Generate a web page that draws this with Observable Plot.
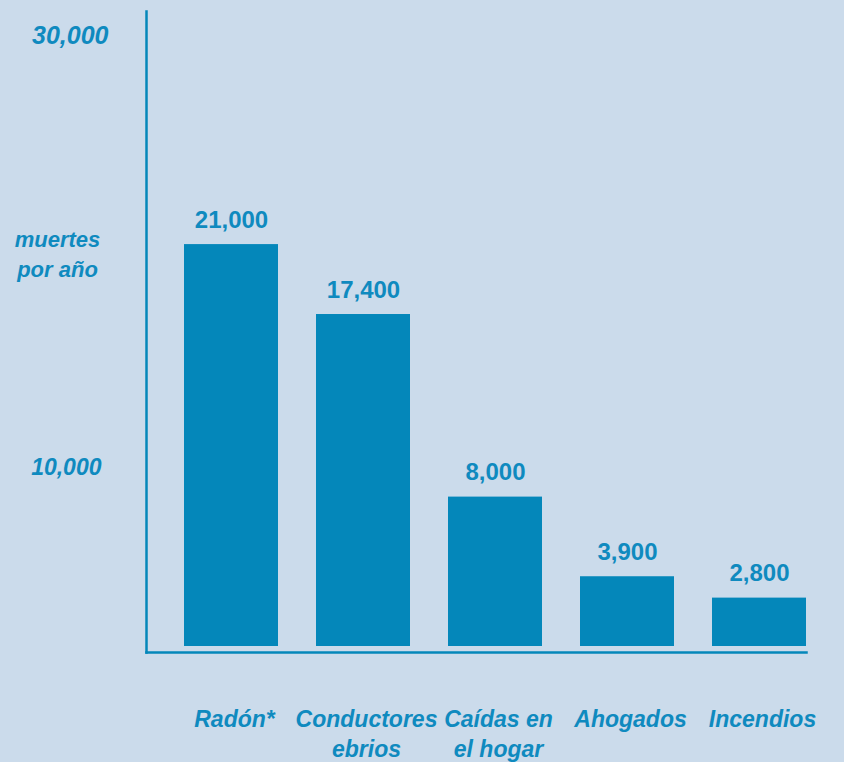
<!DOCTYPE html>
<html>
<head>
<meta charset="utf-8">
<script src="https://cdn.jsdelivr.net/npm/d3@7"></script>
<script src="https://cdn.jsdelivr.net/npm/@observablehq/plot@0.6"></script>
<style>
  html, body { margin: 0; padding: 0; background: #cbdbeb; }
  #wrap { position: relative; width: 844px; height: 762px; }
  #ylabel { position: absolute; left: 0; top: 225px; width: 115px; text-align: center;
    font: italic bold 22px "Liberation Sans", Arial, sans-serif; line-height: 30px; color: #0f8abf; }
</style>
</head>
<body>
<div id="wrap"><div id="ylabel">muertes<br>por año</div></div>
<script>
const categories = ["Radón*", "Conductores\nebrios", "Caídas en\nel hogar", "Ahogados", "Incendios"];
const deaths = [21000, 17400, 8000, 3900, 2800];
const tickTop = [30000];
const tickLow = [10000];

const data = categories.map((c, i) => ({category: c, deaths: deaths[i]}));
const fmt = d3.format(",");
const textColor = "#0f8abf";
const barColor = "#0487ba";
const font = "Liberation Sans, Arial, sans-serif";

const chart = Plot.plot({
  width: 844,
  height: 762,
  marginLeft: 146,
  marginRight: 38,
  marginTop: 11,
  marginBottom: 110,
  style: {background: "transparent", fontFamily: font, color: textColor},
  x: {domain: categories, paddingInner: 0.288, paddingOuter: 0.14, align: 1, axis: null},
  y: {domain: [0, 33000], axis: null},
  marks: [
    Plot.barY(data, {x: "category", y: "deaths", fill: barColor, insetBottom: 6}),
    Plot.text(data, {x: "category", y: "deaths", text: d => fmt(d.deaths), dy: -17, lineAnchor: "bottom",
      fontSize: 24, fontWeight: "bold", fill: textColor}),
    Plot.text(categories, {x: d => d, frameAnchor: "bottom", lineAnchor: "top", dy: 53, dx: 3, lineHeight: 1.3,
      fontSize: 23, fontWeight: "bold", fontStyle: "italic", fill: textColor}),
    Plot.text(tickTop, {y: d => d, text: d => fmt(d), frameAnchor: "left", dx: -38, dy: -34, textAnchor: "end",
      fontSize: 25, fontWeight: "bold", fontStyle: "italic", fill: textColor}),
    Plot.text(tickLow, {y: d => d, text: d => fmt(d), frameAnchor: "left", dx: -45, dy: 9, textAnchor: "end",
      fontSize: 23, fontWeight: "bold", fontStyle: "italic", fill: textColor}),
    Plot.frame({anchor: "left", stroke: barColor, strokeWidth: 2.5}),
    Plot.frame({anchor: "bottom", stroke: barColor, strokeWidth: 2.5})
  ]
});
document.getElementById("wrap").appendChild(chart);
</script>
</body>
</html>
